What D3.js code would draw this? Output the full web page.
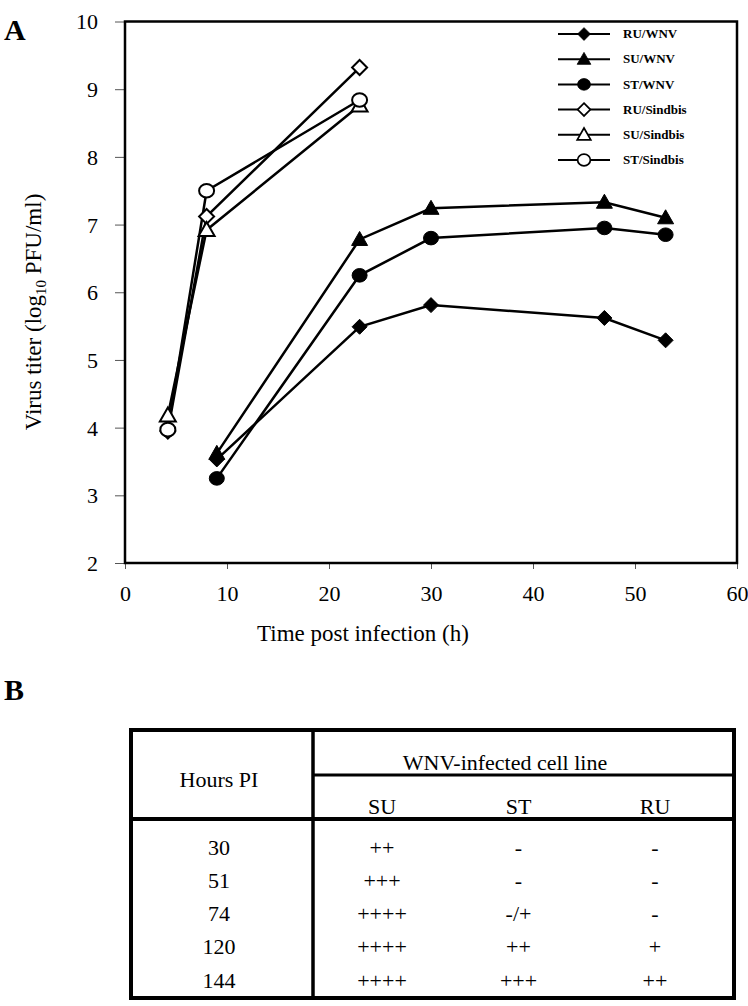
<!DOCTYPE html>
<html><head><meta charset="utf-8">
<script src="https://cdn.jsdelivr.net/npm/d3@7"></script>
<style>
html,body{margin:0;padding:0;background:#fff;}
text{font-family:"Liberation Serif","Times New Roman",serif;fill:#000;}
</style></head>
<body>
<svg id="c" width="748" height="1006"></svg>
<script>
// ---- data ----
const wnvTimes = [9, 23, 30, 47, 53];
const sinTimes = [4.2, 8, 23];
const ruWNV = [3.53, 5.49, 5.81, 5.62, 5.29];
const suWNV = [3.62, 6.78, 7.24, 7.33, 7.10];
const stWNV = [3.25, 6.25, 6.80, 6.95, 6.85];
const ruSindbis = [3.95, 7.12, 9.32];
const suSindbis = [4.18, 6.92, 8.76];
const stSindbis = [3.97, 7.50, 8.84];
const seriesNames = ["RU/WNV", "SU/WNV", "ST/WNV", "RU/Sindbis", "SU/Sindbis", "ST/Sindbis"];
const xTicks = [0, 10, 20, 30, 40, 50, 60];
const yTicks = [2, 3, 4, 5, 6, 7, 8, 9, 10];

const tableHours = ["30", "51", "74", "120", "144"];
const tableSU = ["++", "+++", "++++", "++++", "++++"];
const tableST = ["-", "-", "-/+", "++", "+++"];
const tableRU = ["-", "-", "-", "+", "++"];
const tableCols = ["SU", "ST", "RU"];

// ---- chart ----
const svg = d3.select("#c");
svg.append("rect").attr("width", 748).attr("height", 1006).attr("fill", "#fff");

const L = 125, R = 737, T = 21.5, B = 563;
const x = d3.scaleLinear().domain([0, 60]).range([L, R]);
const y = d3.scaleLinear().domain([2, 10]).range([B, T]);

// axes
const gy = svg.append("g").attr("transform", `translate(${L},0)`)
  .call(d3.axisLeft(y).tickValues(yTicks).tickSize(10).tickFormat(d3.format("d")));
gy.select(".domain").remove();
gy.selectAll(".tick line").attr("stroke", "#555").attr("stroke-width", 1);
gy.selectAll(".tick text").attr("x", -27).attr("dy", "0.34em")
  .style("font-size", "22px").style("font-family", "Liberation Serif");

const gx = svg.append("g").attr("transform", `translate(0,${B})`)
  .call(d3.axisBottom(x).tickValues(xTicks).tickSize(6).tickFormat(d3.format("d")));
gx.select(".domain").remove();
gx.selectAll(".tick line").attr("stroke", "#555").attr("stroke-width", 1);
gx.selectAll(".tick text").attr("y", 38).attr("dy", "0")
  .style("font-size", "22px").style("font-family", "Liberation Serif");

// frame
svg.append("rect").attr("x", L).attr("y", T).attr("width", R - L).attr("height", B - T)
  .attr("fill", "none").attr("stroke", "#000").attr("stroke-width", 2.5);

// axis titles
svg.append("text").attr("x", (L + R) / 2 - 68).attr("y", 641).attr("text-anchor", "middle")
  .style("font-size", "23px").text("Time post infection (h)");
const yl = svg.append("text").attr("transform", "translate(41,312) rotate(-90)")
  .attr("text-anchor", "middle").style("font-size", "23px");
yl.append("tspan").text("Virus titer (log");
yl.append("tspan").attr("dy", 5).style("font-size", "15px").text("10");
yl.append("tspan").attr("dy", -5).text(" PFU/ml)");

// panel letters
svg.append("text").attr("x", 4).attr("y", 40).style("font-size", "30px").style("font-weight", "bold").text("A");
svg.append("text").attr("x", 4).attr("y", 700).style("font-size", "30px").style("font-weight", "bold").text("B");

// series
const series = [
  {name: seriesNames[0], t: wnvTimes, v: ruWNV, shape: "diamond", fill: "#000"},
  {name: seriesNames[1], t: wnvTimes, v: suWNV, shape: "triangle", fill: "#000"},
  {name: seriesNames[2], t: wnvTimes, v: stWNV, shape: "circle", fill: "#000"},
  {name: seriesNames[3], t: sinTimes, v: ruSindbis, shape: "diamond", fill: "#fff"},
  {name: seriesNames[4], t: sinTimes, v: suSindbis, shape: "triangle", fill: "#fff"},
  {name: seriesNames[5], t: sinTimes, v: stSindbis, shape: "circle", fill: "#fff"}
];

function marker(g, shape, fill) {
  const sw = fill === "#000" ? 1 : 2;
  if (shape === "diamond") {
    g.append("path").attr("d", "M0,-7.5L7.5,0L0,7.5L-7.5,0Z")
      .attr("fill", fill).attr("stroke", "#000").attr("stroke-width", sw);
  } else if (shape === "triangle") {
    g.append("path").attr("d", "M0,-8L8,6L-8,6Z")
      .attr("fill", fill).attr("stroke", "#000").attr("stroke-width", sw);
  } else {
    g.append("ellipse").attr("rx", 7.5).attr("ry", 6.8)
      .attr("fill", fill).attr("stroke", "#000").attr("stroke-width", sw);
  }
}

const line = d3.line().x(d => x(d[0])).y(d => y(d[1]));
series.forEach(s => {
  const pts = s.t.map((t, i) => [t, s.v[i]]);
  svg.append("path").attr("d", line(pts)).attr("fill", "none")
    .attr("stroke", "#000").attr("stroke-width", 2.5);
});
series.forEach(s => {
  s.t.forEach((t, i) => {
    const g = svg.append("g").attr("transform", `translate(${x(t)},${y(s.v[i])})`);
    marker(g, s.shape, s.fill);
  });
});

// legend
series.forEach((s, i) => {
  const ly = 34 + i * 25.2;
  const g = svg.append("g").attr("transform", `translate(0,${ly})`);
  g.append("line").attr("x1", 558).attr("x2", 610).attr("stroke", "#000").attr("stroke-width", 2);
  const m = g.append("g").attr("transform", "translate(584,0) scale(0.85)");
  marker(m, s.shape, s.fill);
  g.append("text").attr("x", 623).attr("dy", "0.33em").style("font-size", "13px")
    .style("font-weight", "bold").text(s.name);
});

// ---- table ----
const tL = 131, tR = 734, tT = 730, tB = 998, tDiv = 313, tMid = 775, tHead = 819;
const tb = svg.append("g");
tb.append("rect").attr("x", tL).attr("y", tT).attr("width", tR - tL).attr("height", tB - tT)
  .attr("fill", "none").attr("stroke", "#000").attr("stroke-width", 4);
tb.append("line").attr("x1", tDiv).attr("x2", tDiv).attr("y1", tT).attr("y2", tB)
  .attr("stroke", "#000").attr("stroke-width", 3.5);
tb.append("line").attr("x1", tDiv).attr("x2", tR).attr("y1", tMid).attr("y2", tMid)
  .attr("stroke", "#000").attr("stroke-width", 3);
tb.append("line").attr("x1", tL).attr("x2", tR).attr("y1", tHead).attr("y2", tHead)
  .attr("stroke", "#000").attr("stroke-width", 4);

const colX = d3.scalePoint().domain(tableCols).range([382, 655]);
const hoursX = 219;
tb.append("text").attr("x", hoursX).attr("y", 779).attr("dy", "0.35em").attr("text-anchor", "middle")
  .style("font-size", "22px").text("Hours PI");
tb.append("text").attr("x", 505).attr("y", 762).attr("dy", "0.35em").attr("text-anchor", "middle")
  .style("font-size", "22px").text("WNV-infected cell line");
tableCols.forEach(c => {
  tb.append("text").attr("x", colX(c)).attr("y", 806).attr("dy", "0.35em").attr("text-anchor", "middle")
    .style("font-size", "22px").text(c);
});
const rowY = d3.scalePoint().domain(tableHours).range([847, 980]);
const cols = {SU: tableSU, ST: tableST, RU: tableRU};
tableHours.forEach((h, i) => {
  tb.append("text").attr("x", hoursX).attr("y", rowY(h)).attr("dy", "0.35em").attr("text-anchor", "middle")
    .style("font-size", "22px").text(h);
  tableCols.forEach(c => {
    tb.append("text").attr("x", colX(c)).attr("y", rowY(h)).attr("dy", "0.35em").attr("text-anchor", "middle")
      .style("font-size", "22px").text(cols[c][i]);
  });
});
</script>
</body></html>
